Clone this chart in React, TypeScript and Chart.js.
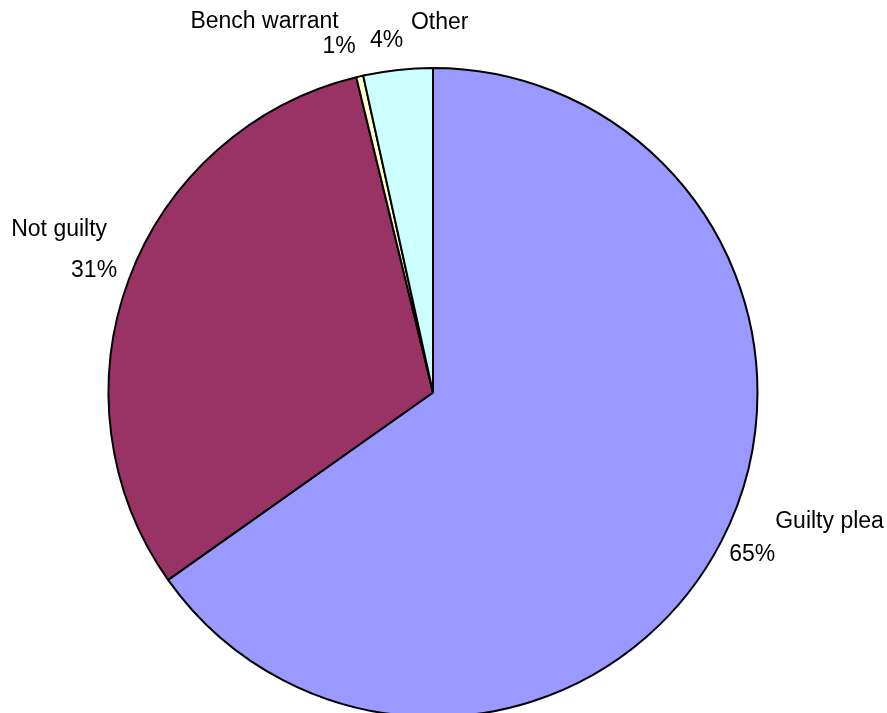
import React, { useEffect, useRef } from "react";
import { Chart, registerables } from "chart.js";

Chart.register(...registerables);

const categories = ["Guilty plea", "Not guilty", "Bench warrant", "Other"];
const values = [65.2, 31.0, 0.35, 3.45];
const percentLabels = ["65%", "31%", "1%", "4%"];
const colors = ["#9999FF", "#993366", "#FFFFCC", "#CCFFFF"];

// label placement offsets relative to the arc's outer mid point (styling only)
const labelStyle = [
  { name: { dx: 54, dy: -14, align: "left" }, pct: { dx: 54, dy: 19, align: "right" } },
  { name: { dx: -22, dy: -43, align: "right" }, pct: { dx: -12, dy: -2, align: "right" } },
  { name: { dx: -21, dy: -48, align: "right" }, pct: { dx: -4, dy: -23, align: "right" } },
  { name: { dx: 13, dy: -41, align: "left" }, pct: { dx: -28, dy: -23, align: "left" } },
];

const labelPlugin = {
  id: "outsideLabels",
  afterDatasetsDraw(chart: any) {
    const ctx = chart.ctx;
    const meta = chart.getDatasetMeta(0);
    ctx.save();
    ctx.font = '23px "Liberation Sans", Arial, sans-serif';
    ctx.fillStyle = "#000";
    ctx.textBaseline = "alphabetic";
    meta.data.forEach((arc: any, i: number) => {
      const { x, y, startAngle, endAngle, outerRadius } = arc.getProps(
        ["x", "y", "startAngle", "endAngle", "outerRadius"],
        true
      );
      const mid = (startAngle + endAngle) / 2;
      const ax = x + Math.cos(mid) * outerRadius;
      const ay = y + Math.sin(mid) * outerRadius;
      const s = labelStyle[i];
      ctx.textAlign = s.name.align;
      ctx.fillText(categories[i], ax + s.name.dx, ay + s.name.dy);
      ctx.textAlign = s.pct.align;
      ctx.fillText(percentLabels[i], ax + s.pct.dx, ay + s.pct.dy);
    });
    ctx.restore();
  },
};

export default function App() {
  const ref = useRef<HTMLCanvasElement>(null);
  useEffect(() => {
    if (!ref.current) return;
    const chart = new Chart(ref.current, {
      type: "pie",
      data: {
        labels: categories,
        datasets: [
          {
            data: values,
            backgroundColor: colors,
            borderColor: "#000000",
            borderWidth: 2,
          },
        ],
      },
      options: {
        responsive: false,
        animation: false,
        layout: { padding: { top: 67, left: 0, right: 21, bottom: 12 } },
        plugins: {
          legend: { display: false },
          tooltip: { enabled: false },
        },
      },
      plugins: [labelPlugin],
    });
    return () => chart.destroy();
  }, []);
  return (
    <div style={{ position: "fixed", left: 0, top: 0, width: 887, height: 713, overflow: "hidden", background: "#fff" }}>
      <canvas ref={ref} width={887} height={730} style={{ display: "block" }} />
    </div>
  );
}
